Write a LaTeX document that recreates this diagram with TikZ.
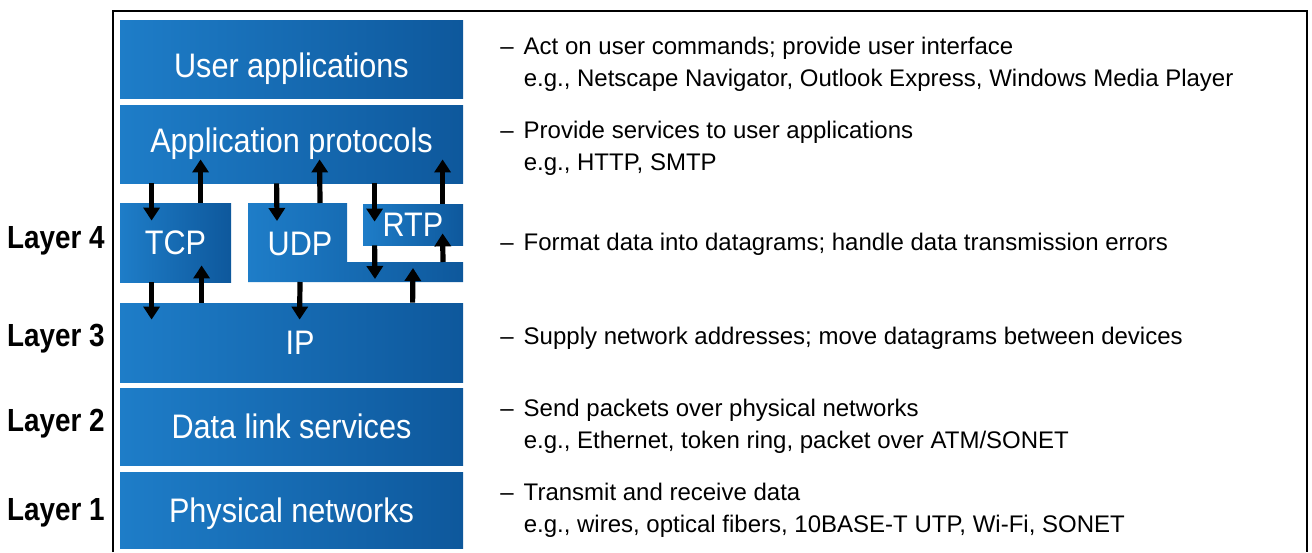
\documentclass[tikz,border=0pt]{standalone}
\usepackage{fontspec}
\setmainfont{Liberation Sans}
\newfontfamily\boxfont[FakeStretch=0.9]{Liberation Sans}
\newfontfamily\layerfont[FakeStretch=0.87]{Liberation Sans}
\usetikzlibrary{arrows.meta,calc}
\definecolor{blueL}{RGB}{30,125,200}
\definecolor{blueR}{RGB}{14,88,156}

\begin{document}
\begin{tikzpicture}[x=0.5pt,y=-0.5pt,
  blk/.style={left color=blueL,right color=blueR,text=white,inner sep=0pt,
    font=\boxfont\fontsize{17}{20}\selectfont,text height=12.2pt,text depth=0pt},
  lbl/.style={text=white,inner sep=0pt,
    font=\boxfont\fontsize{17}{20}\selectfont,text height=12.2pt,text depth=0pt},
  layer/.style={font=\layerfont\bfseries\fontsize{16}{19}\selectfont,anchor=base east,inner sep=0pt},
  desc/.style={font=\fontsize{12}{16}\selectfont,anchor=west,inner sep=0pt},
  arr/.style={line width=2.6pt,-{Triangle[width=8pt,length=6.5pt]}}]
  \useasboundingbox (0,0) rectangle (1312,552);
  \draw[line width=1pt] (113,552) |- (1307,11) -- (1307,552);

  % the stack
  \node[blk,minimum width=171.5pt,minimum height=39pt,text height=18.7pt] (user) at (291.5,59) {User applications};
  \node[blk,minimum width=171.5pt,minimum height=39pt,text depth=3.5pt] (app) at (291.5,144) {Application protocols};
  \node[blk,minimum width=55.5pt,minimum height=39.5pt] (tcp) at (175.5,242.5) {TCP};
  \shade[left color=blueL,right color=blueR] (248,203) -- (347,203) -- (347,262) -- (463,262) -- (463,282) -- (248,282) -- cycle;
  \coordinate (udpnw) at (248,203);
  \coordinate (udpsw) at (248,282);
  \coordinate (udpstep) at (347,262);
  \node[lbl] (udp) at (300,243) {UDP};
  \node[blk,minimum width=50pt,minimum height=20.5pt] (rtp) at (413,224.5) {RTP};
  \node[blk,minimum width=171.5pt,minimum height=39.5pt] (ip) at (291.5,342.5) {\hspace*{8.5pt}IP};
  \node[blk,minimum width=171.5pt,minimum height=38.5pt] (dll) at (291.5,426.5) {Data link services};
  \node[blk,minimum width=171.5pt,minimum height=38pt] (phy) at (291.5,510) {Physical networks};

  % layer names
  \node[layer] (l4) at (105,248) {Layer 4};
  \node[layer] (l3) at (105,346) {Layer 3};
  \node[layer] (l2) at (105,431) {Layer 2};
  \node[layer] (l1) at (105,520) {Layer 1};

  % down arrows
  \draw[arr] ($(app.south west)+(32,0)$) -- ($(tcp.north west)+(32,18)$);
  \draw[arr] ($(app.south west)+(157,0)$) -- ($(udpnw)+(29,18)$);
  \draw[arr] ($(app.south west)+(255,0)$) -- ($(rtp.north west)+(12,18)$);
  \draw[arr] ($(tcp.south west)+(32,0)$) -- ($(ip.north west)+(32,17)$);
  \draw[arr] ($(udpsw)+(52,0)$) -- ($(ip.north west)+(180,17)$);
  \draw[arr] ($(rtp.south west)+(12,0)$) -- ($(udpstep)+(28,17)$);
  % up arrows
  \draw[arr] ($(tcp.north west)+(81,0)$) -- ($(app.south west)+(81,-24)$);
  \draw[arr] ($(udpnw)+(72,0)$) -- ($(app.south west)+(200,-24)$);
  \draw[arr] ($(rtp.north west)+(80,0)$) -- ($(app.south west)+(323,-24)$);
  \draw[arr] ($(ip.north west)+(82,0)$) -- ($(tcp.south west)+(82,-17)$);
  \draw[arr] ($(ip.north west)+(293,0)$) -- ($(udpsw)+(165,-14)$);
  \draw[arr] ($(udpstep)+(96,0)$) -- ($(rtp.south west)+(80,-12)$);

  % what each layer does
  \node[desc] (t1) at (500,64) {\begin{tabular}{@{}l@{\hspace{5pt}}l@{}}– & Act on user commands; provide user interface\\
    & e.g., Netscape Navigator, Outlook Express, Windows Media Player\end{tabular}};
  \node[desc] (t2) at (500,148) {\begin{tabular}{@{}l@{\hspace{5pt}}l@{}}– & Provide services to user applications\\
    & e.g., HTTP, SMTP\end{tabular}};
  \node[desc] (t3) at (500,244) {\begin{tabular}{@{}l@{\hspace{5pt}}l@{}}– & Format data into datagrams; handle data transmission errors\end{tabular}};
  \node[desc] (t4) at (500,338) {\begin{tabular}{@{}l@{\hspace{5pt}}l@{}}– & Supply network addresses; move datagrams between devices\end{tabular}};
  \node[desc] (t5) at (500,426) {\begin{tabular}{@{}l@{\hspace{5pt}}l@{}}– & Send packets over physical networks\\
    & e.g., Ethernet, token ring, packet over ATM/SONET\end{tabular}};
  \node[desc] (t6) at (500,510) {\begin{tabular}{@{}l@{\hspace{5pt}}l@{}}– & Transmit and receive data\\
    & e.g., wires, optical fibers, 10BASE-T UTP, Wi-Fi, SONET\end{tabular}};
\end{tikzpicture}
\end{document}
